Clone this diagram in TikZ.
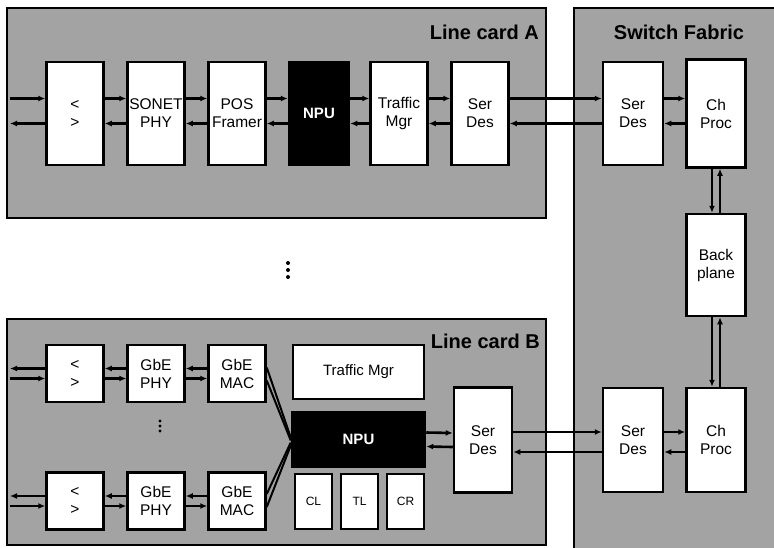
\documentclass[tikz,border=0pt]{standalone}
\usepackage{fontspec}
\setmainfont{Liberation Sans}
\usetikzlibrary{arrows.meta, positioning}

\begin{document}
\begin{tikzpicture}[x=1pt, y=-1pt,
    card/.style={draw, line width=2.5pt, fill=black!36},
    blk/.style={draw, line width=2.5pt, fill=white, align=center, inner sep=0pt, font=\fontsize{15.5}{18}\selectfont},
    npu/.style={blk, fill=black, text=white, font=\fontsize{15}{18}\selectfont\bfseries},
    ttl/.style={inner sep=0pt, font=\fontsize{20}{24}\selectfont\bfseries},
    arr/.style={-{Latex[length=7pt,width=6pt]}, line width=2.6pt},
    bus/.style={line width=2pt}]
    \useasboundingbox (0,0) rectangle (774,547);
    \clip (0,0) rectangle (774,547);
    \draw[card] (7,8) rectangle (546,218);
    \draw[card] (7,319) rectangle (546,545);
    \draw[card] (574,8) rectangle (790,570);
    \node[ttl, anchor=east] (ttlA) at (539,32) {Line card A};
    \node[ttl] (ttlSF) at (679,32) {Switch Fabric};
    \node[ttl, anchor=east] (ttlB) at (540,341) {Line card B};

    % line card A
    \foreach \i/\name/\txt in {0/ioA/{<\\>}, 1/phyA/{SONET\\PHY}, 2/posA/{POS\\Framer}, 4/tmA/{Traffic\\Mgr}, 5/sdA/{Ser\\Des}}
        \node[blk, minimum width=57pt, minimum height=103pt] (\name) at (75+\i*81, 113.5) {\txt};
    \node[npu, minimum width=60pt, minimum height=103pt] (npuA) at (319,113.5) {NPU};

    % switch fabric
    \node[blk, minimum width=60pt, minimum height=103pt] (sdSFA) at (633,113.5) {Ser\\Des};
    \node[blk, minimum width=59pt, minimum height=108pt] (cpA) at (716,113.5) {Ch\\Proc};
    \node[blk, minimum width=59pt, minimum height=102pt] (bp) at (716,265) {Back\\plane};
    \node[blk, minimum width=60pt, minimum height=104pt] (sdSFB) at (633,440) {Ser\\Des};
    \node[blk, minimum width=59pt, minimum height=104pt] (cpB) at (716,440) {Ch\\Proc};

    % line card B
    \foreach \r/\y in {1/373.5, 2/501}
        \foreach \i/\name/\txt in {0/io/{<\\>}, 1/phy/{GbE\\PHY}, 2/mac/{GbE\\MAC}}
            \node[blk, minimum width=57pt, minimum height=57pt] (\name\r) at (75+\i*81, \y) {\txt};
    \node[blk, minimum width=131pt, minimum height=54pt, font=\fontsize{15}{18}\selectfont] (tmB) at (358.5,372) {Traffic Mgr};
    \node[npu, minimum width=133pt, minimum height=55pt] (npuB) at (358.5,439.5) {NPU};
    \foreach \i/\txt in {0/CL, 1/TL, 2/CR}
        \node[blk, minimum width=37pt, minimum height=55pt, font=\fontsize{12}{14}\selectfont] (\txt) at (313.5+\i*46, 501.5) {\txt};
    \node[blk, minimum width=58pt, minimum height=105pt] (sdB) at (483,440) {Ser\\Des};

    % connectors
    \coordinate (inA) at (10,113.5);
    \draw[arr] ([yshift=15pt]inA) -- ([yshift=15pt]ioA.west);
    \draw[arr] ([yshift=-10pt]ioA.west) -- ([yshift=-10pt]inA);
    \foreach \a/\b in {ioA/phyA, phyA/posA, posA/npuA, npuA/tmA, tmA/sdA, sdA/sdSFA, sdSFA/cpA} {
        \draw[arr] ([yshift=15pt]\a.east) -- ([yshift=15pt]\b.west);
        \draw[arr] ([yshift=-10pt]\b.west) -- ([yshift=-10pt]\a.east);
    }
    \coordinate (in1) at (10,373.5);
    \coordinate (in2) at (10,501);
    \foreach \r in {1,2} {
        \draw[arr] ([yshift=5pt]io\r.west) -- ([yshift=5pt]in\r);
        \draw[arr] ([yshift=-5pt]in\r) -- ([yshift=-5pt]io\r.west);
    }
    \foreach \a/\b in {io1/phy1, phy1/mac1, io2/phy2, phy2/mac2} {
        \draw[arr] ([yshift=5pt]\b.west) -- ([yshift=5pt]\a.east);
        \draw[arr] ([yshift=-5pt]\a.east) -- ([yshift=-5pt]\b.west);
    }
    \draw[bus] ([yshift=6pt]mac1.east) -- ([yshift=2pt]npuB.west);
    \draw[bus] ([yshift=-7pt]mac1.east) -- ([yshift=-1pt]npuB.west);
    \draw[bus] ([yshift=7pt]mac2.east) -- ([yshift=-3pt]npuB.west);
    \draw[bus] ([yshift=-6pt]mac2.east) -- ([yshift=-6pt]npuB.west);
    \draw[arr] ([yshift=7pt]npuB.east) -- ([yshift=7pt]sdB.west);
    \draw[arr] ([yshift=-7pt]sdB.west) -- ([yshift=-7pt]npuB.east);
    \foreach \a/\b in {sdB/sdSFB, sdSFB/cpB} {
        \draw[arr] ([yshift=8pt]\a.east) -- ([yshift=8pt]\b.west);
        \draw[arr] ([yshift=-12pt]\b.west) -- ([yshift=-12pt]\a.east);
    }
    \draw[arr] ([xshift=-4pt]cpA.south) -- ([xshift=-4pt]bp.north);
    \draw[arr] ([xshift=4pt]bp.north) -- ([xshift=4pt]cpA.south);
    \draw[arr] ([xshift=-4pt]bp.south) -- ([xshift=-4pt]cpB.north);
    \draw[arr] ([xshift=4pt]cpB.north) -- ([xshift=4pt]bp.south);

    % dots
    \foreach \k in {0,1,2}
        \fill (288,263+\k*7) circle (2pt);
    \foreach \k in {0,1,2}
        \fill (160,421+\k*5) circle (1.6pt);
\end{tikzpicture}
\end{document}
